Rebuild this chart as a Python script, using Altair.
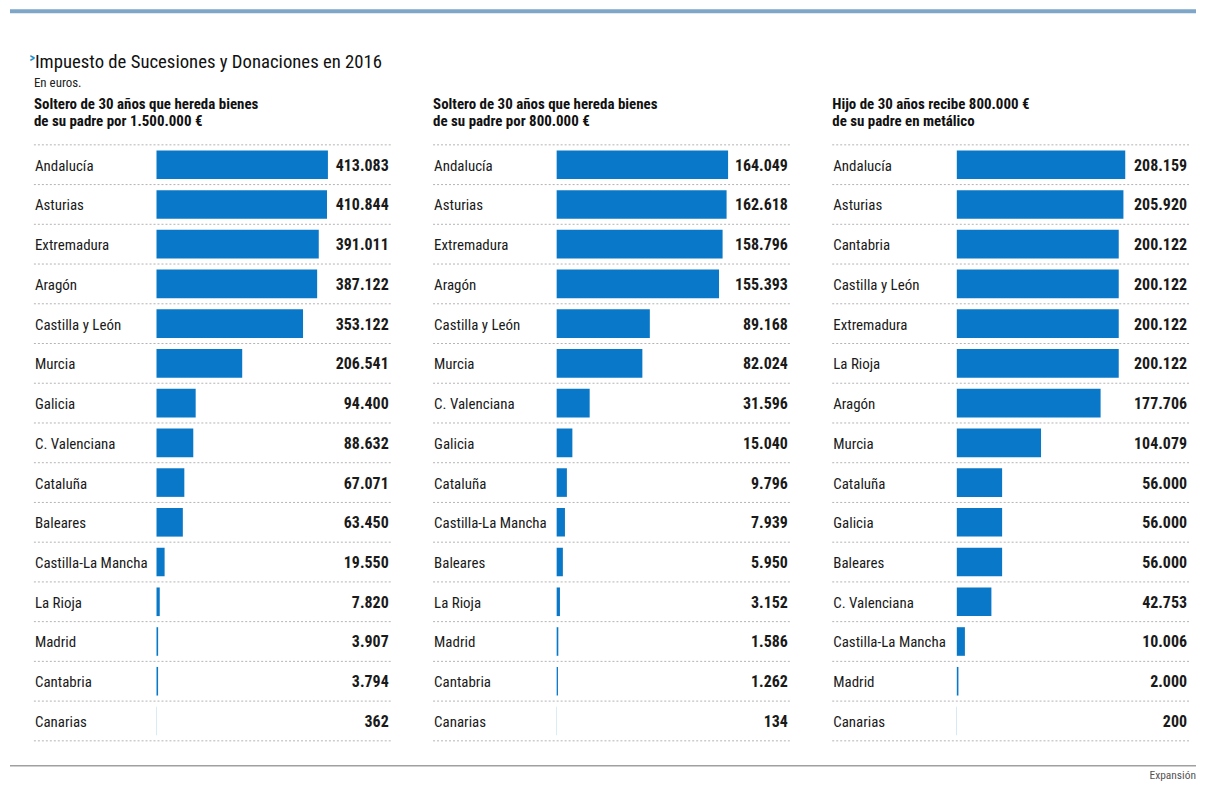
import altair as alt
import pandas as pd

FONT = "'Roboto Condensed', 'Liberation Sans Narrow', 'DejaVu Sans Condensed', sans-serif"
BLUE = "#0a78c8"
INK = "#1a1a1a"

main_title = "Impuesto de Sucesiones y Donaciones en 2016"
main_note = "En euros."
source = "Expansión"

titles1 = ["Soltero de 30 años que hereda bienes", "de su padre por 1.500.000 €"]
regions1 = ["Andalucía", "Asturias", "Extremadura", "Aragón", "Castilla y León", "Murcia",
            "Galicia", "C. Valenciana", "Cataluña", "Baleares", "Castilla-La Mancha",
            "La Rioja", "Madrid", "Cantabria", "Canarias"]
values1 = [413083, 410844, 391011, 387122, 353122, 206541, 94400, 88632, 67071, 63450,
           19550, 7820, 3907, 3794, 362]

titles2 = ["Soltero de 30 años que hereda bienes", "de su padre por 800.000 €"]
regions2 = ["Andalucía", "Asturias", "Extremadura", "Aragón", "Castilla y León", "Murcia",
            "C. Valenciana", "Galicia", "Cataluña", "Castilla-La Mancha", "Baleares",
            "La Rioja", "Madrid", "Cantabria", "Canarias"]
values2 = [164049, 162618, 158796, 155393, 89168, 82024, 31596, 15040, 9796, 7939,
           5950, 3152, 1586, 1262, 134]

titles3 = ["Hijo de 30 años recibe 800.000 €", "de su padre en metálico"]
regions3 = ["Andalucía", "Asturias", "Cantabria", "Castilla y León", "Extremadura",
            "La Rioja", "Aragón", "Murcia", "Cataluña", "Galicia", "Baleares",
            "C. Valenciana", "Castilla-La Mancha", "Madrid", "Canarias"]
values3 = [208159, 205920, 200122, 200122, 200122, 200122, 177706, 104079, 56000, 56000,
           56000, 42753, 10006, 2000, 200]

W = 358
H = 598
NROWS = 15
yscale = alt.Scale(domain=[0, NROWS], range=[0, H], nice=False, zero=False)


def fmt(v):
    return f"{v:,}".replace(",", ".")


def panel(regions, values, bar_range, title_lines, decorate=False):
    df = pd.DataFrame({"region": regions, "value": values})
    df["row"] = list(range(len(df)))
    df["label"] = [fmt(v) for v in values]
    base = alt.Chart(df).transform_calculate(
        top="datum.row + 0.14", bot="datum.row + 0.86", mid="datum.row + 0.5", zero="0"
    )
    xs = alt.Scale(domain=[0, max(values)], range=bar_range, nice=False, zero=True)
    bars = base.mark_rect(color=BLUE).encode(
        x=alt.X("zero:Q", scale=xs, axis=None),
        x2="value:Q",
        y=alt.Y("top:Q", scale=yscale, axis=None),
        y2="bot:Q",
    )
    names = base.mark_text(align="left", baseline="middle", font=FONT, fontSize=15,
                           color=INK, dy=1).encode(
        x=alt.value(1),
        y=alt.Y("mid:Q", scale=yscale, axis=None),
        text="region:N",
    )
    vals = base.mark_text(align="right", baseline="middle", font=FONT, fontSize=16,
                          fontWeight="bold", color=INK, dy=1).encode(
        x=alt.value(356),
        y=alt.Y("mid:Q", scale=yscale, axis=None),
        text="label:N",
    )
    rules = alt.Chart(pd.DataFrame({"b": list(range(NROWS + 1))})).mark_rule(
        color="#b4b4b4", strokeDash=[2, 2], strokeWidth=1
    ).encode(
        y=alt.Y("b:Q", scale=yscale, axis=None),
        x=alt.value(0),
        x2=alt.value(W),
    )
    one = pd.DataFrame({"t": [0]})
    head = alt.Chart(one).mark_text(
        text=title_lines, align="left", baseline="alphabetic", font=FONT, fontSize=15,
        fontWeight="bold", lineHeight=16.5, color="#111111"
    ).encode(x=alt.value(0), y=alt.value(-35.5))
    layers = [rules, bars, names, vals, head]
    if decorate:
        top_line = alt.Chart(one).mark_rule(color="#7ea6c8", strokeWidth=4).encode(
            x=alt.value(-24), x2=alt.value(1166), y=alt.value(-134))
        bottom_line = alt.Chart(one).mark_rule(color="#a0a0a0", strokeWidth=1.5).encode(
            x=alt.value(-24), x2=alt.value(1166), y=alt.value(623))
        arrow = alt.Chart(one).mark_text(
            text=">", align="left", baseline="alphabetic", font=FONT, fontSize=12,
            fontWeight="bold", color="#1f8fca").encode(x=alt.value(-4.5), y=alt.value(-83))
        ttl = alt.Chart(one).mark_text(
            text=main_title, align="left", baseline="alphabetic", font=FONT, fontSize=18.8,
            color="#111111").encode(x=alt.value(1), y=alt.value(-77))
        note = alt.Chart(one).mark_text(
            text=main_note, align="left", baseline="alphabetic", font=FONT, fontSize=13,
            color="#222222").encode(x=alt.value(0), y=alt.value(-58))
        src = alt.Chart(one).mark_text(
            text=source, align="right", baseline="alphabetic", font=FONT, fontSize=11.5,
            color="#555555").encode(x=alt.value(1166), y=alt.value(636))
        layers += [top_line, bottom_line, arrow, ttl, note, src]
    return alt.layer(*layers).properties(width=W, height=H)


p1 = panel(regions1, values1, [123, 295], titles1, decorate=True)
p2 = panel(regions2, values2, [124, 296], titles2)
p3 = panel(regions3, values3, [125, 294], titles3)

chart = alt.hconcat(p1, p2, p3, spacing=42.5, bounds="flush").properties(
    padding=0, background="white"
).configure_view(stroke=None)

chart.save("out.html", embed_options={"renderer": "svg", "actions": False})
